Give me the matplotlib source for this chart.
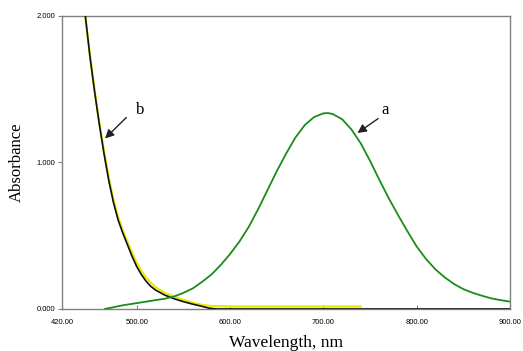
import numpy as np
import matplotlib
matplotlib.use("Agg")
import matplotlib.pyplot as plt

# curve a (green)
wl_a = [466, 475, 485, 500, 515, 530, 540, 550, 560, 570, 580, 590, 600, 610, 620,
        630, 640, 650, 660, 670, 680, 690, 700, 705, 710, 720, 730, 740, 750, 760,
        770, 780, 790, 800, 810, 820, 830, 840, 850, 860, 870, 880, 890, 900]
abs_a = [0.0, 0.012, 0.025, 0.04, 0.055, 0.07, 0.085, 0.11, 0.14, 0.185, 0.235, 0.30,
         0.375, 0.46, 0.56, 0.68, 0.81, 0.94, 1.06, 1.17, 1.255, 1.31, 1.335, 1.337,
         1.33, 1.295, 1.225, 1.13, 1.01, 0.88, 0.755, 0.64, 0.53, 0.425, 0.34, 0.27,
         0.215, 0.17, 0.135, 0.11, 0.09, 0.072, 0.06, 0.05]

# curve b (black)
wl_b = [440, 445, 450, 455, 460, 465, 470, 475, 480, 485, 490, 495, 500, 505, 510,
        515, 520, 530, 540, 550, 560, 570, 578, 585, 900]
abs_b = [2.30, 2.00, 1.72, 1.48, 1.26, 1.06, 0.88, 0.73, 0.61, 0.52, 0.44, 0.36, 0.29,
         0.235, 0.19, 0.155, 0.13, 0.095, 0.07, 0.05, 0.033, 0.018, 0.005, 0.0, 0.0]

# its yellow twin, mostly hidden under it
wl_y = [440, 445, 450, 455, 460, 465, 470, 475, 480, 485, 490, 495, 500, 505, 510,
        515, 520, 530, 540, 550, 560, 570, 580, 600, 740]
abs_y = [2.30, 2.00, 1.73, 1.49, 1.27, 1.08, 0.90, 0.75, 0.63, 0.54, 0.46, 0.385, 0.315,
         0.26, 0.215, 0.18, 0.15, 0.11, 0.085, 0.062, 0.042, 0.028, 0.02, 0.017, 0.017]

xticks = [420, 500, 600, 700, 800, 900]
yticks = [0.0, 1.0, 2.0]

fig = plt.figure(figsize=(5.23, 3.51), dpi=100)
ax = fig.add_axes([0.1185, 0.1197, 0.857, 0.835])

ax.plot(wl_y, abs_y, color="#e8e800", lw=1.6, zorder=2)
ax.plot(wl_b, abs_b, color="#111111", lw=1.2, zorder=3)
ax.plot(wl_a, abs_a, color="#1a8c1a", lw=1.3, zorder=4)

ax.set_xlim(420, 900)
ax.set_ylim(0, 2)
ax.set_xticks(xticks)
ax.set_xticklabels(["%.2f" % v for v in xticks])
ax.set_yticks(yticks)
ax.set_yticklabels(["%.3f" % v for v in yticks])
sans = ["Liberation Sans", "DejaVu Sans"]
ax.tick_params(axis="x", direction="in", length=3, labelsize=5.5, pad=7, color="#808080")
ax.tick_params(axis="y", direction="out", length=3, labelsize=5.5, pad=2, color="#808080")
for lab in ax.get_xticklabels() + ax.get_yticklabels():
    lab.set_family(sans)
for s in ax.spines.values():
    s.set_color("#808080")
    s.set_linewidth(1.0)

serif = ["Liberation Serif", "DejaVu Serif"]
ax.set_xlabel("Wavelength, nm", family=serif, fontsize=12.5, labelpad=7)
ax.set_ylabel("Absorbance", family=serif, fontsize=12, labelpad=8)

arrow = dict(arrowstyle="-|>", color="#222222", lw=1.0, mutation_scale=13)
ax.annotate("", xy=(464, 1.15), xytext=(491, 1.32), arrowprops=arrow)
ax.text(504, 1.36, "b", family=serif, fontsize=12, va="center", ha="center")
ax.annotate("", xy=(734, 1.19), xytext=(761, 1.31), arrowprops=arrow)
ax.text(766, 1.36, "a", family=serif, fontsize=12, va="center", ha="center")

fig.savefig("out.png", dpi=100)
